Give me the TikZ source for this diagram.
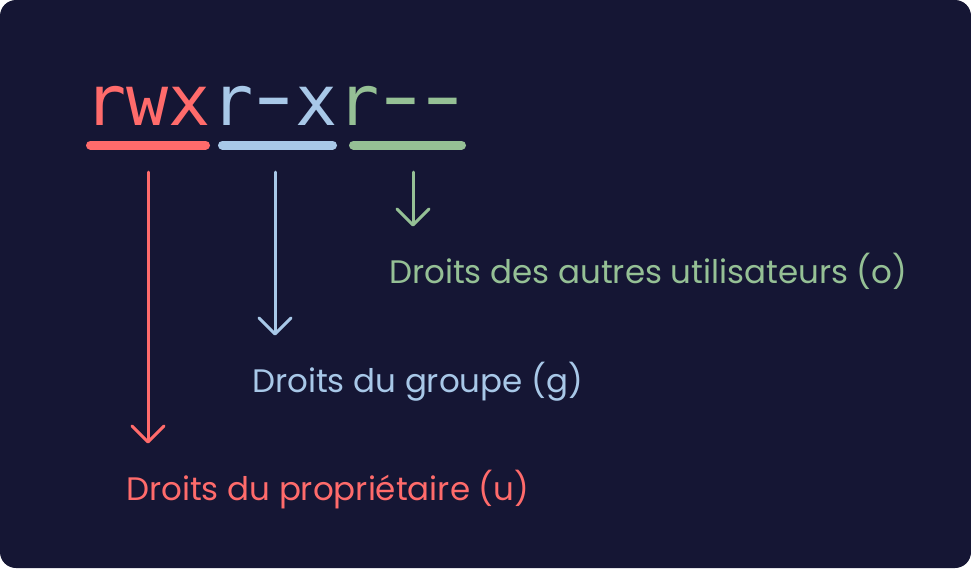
\documentclass[tikz,border=0pt]{standalone}
\usepackage{graphicx}
\usepackage{fontspec}
\setmainfont{Poppins}
\setmonofont{DejaVu Sans Mono}
\usetikzlibrary{arrows.meta}
\definecolor{bgnavy}{HTML}{151634}
\definecolor{ownred}{HTML}{FF6B6B}
\definecolor{grpblue}{HTML}{A8C8E8}
\definecolor{othgreen}{HTML}{95C095}
\newcommand\permdash{\makebox[0.602em]{\scalebox{0.78}[1.1]{−}}}

\begin{document}
\begin{tikzpicture}[x=1pt, y=-1pt,
		perm/.style={inner sep=0, anchor=base west, font=\ttfamily\fontsize{70}{70}\selectfont},
		bar/.style={line width=9pt, line cap=round},
		arr/.style={line width=3pt, line cap=round, -{Straight Barb[length=16pt, width=32pt, round]}},
		lbl/.style={inner sep=0, anchor=base west, font=\fontsize{32.5}{32.5}\selectfont}]
		%%%%% START %%%%%
		
		\useasboundingbox (0, 0) rectangle (971, 568);
		\fill[white] (0, 0) rectangle (971, 568);
		\fill[bgnavy, rounded corners=16pt] (0, 0) rectangle (971, 568);
		
		\node[perm, text=ownred] (rwx) at (84, 125) {rwx};
		\node[perm, text=grpblue] (rx) at (rwx.base east) {r\permdash x};
		\node[perm, text=othgreen] (r) at (rx.base east) {r\permdash\permdash};
		
		\draw[bar, ownred] (90.5, 145) -- (205.5, 145);
		\draw[bar, grpblue] (222.5, 145) -- (332.5, 145);
		\draw[bar, othgreen] (353.5, 145) -- (461.5, 145);
		
		\node[lbl, text=othgreen] (oth) at (389, 283) {Droits des autres utilisateurs (o)};
		\node[lbl, text=grpblue] (grp) at (252, 392) {Droits du groupe (g)};
		\node[lbl, text=ownred] (own) at (126, 500) {Droits du propriétaire (u)};
		
		\coordinate (othtop) at (413, 172);
		\coordinate (grptop) at (275, 172);
		\coordinate (owntop) at (148, 172);
		
		\draw[arr, othgreen] (othtop) -- ([yshift=26pt]othtop |- oth.north);
		\draw[arr, grpblue] (grptop) -- ([yshift=26pt]grptop |- grp.north);
		\draw[arr, ownred] (owntop) -- ([yshift=26pt]owntop |- own.north);
		
		%%%%% END %%%%%
\end{tikzpicture}
\end{document}
